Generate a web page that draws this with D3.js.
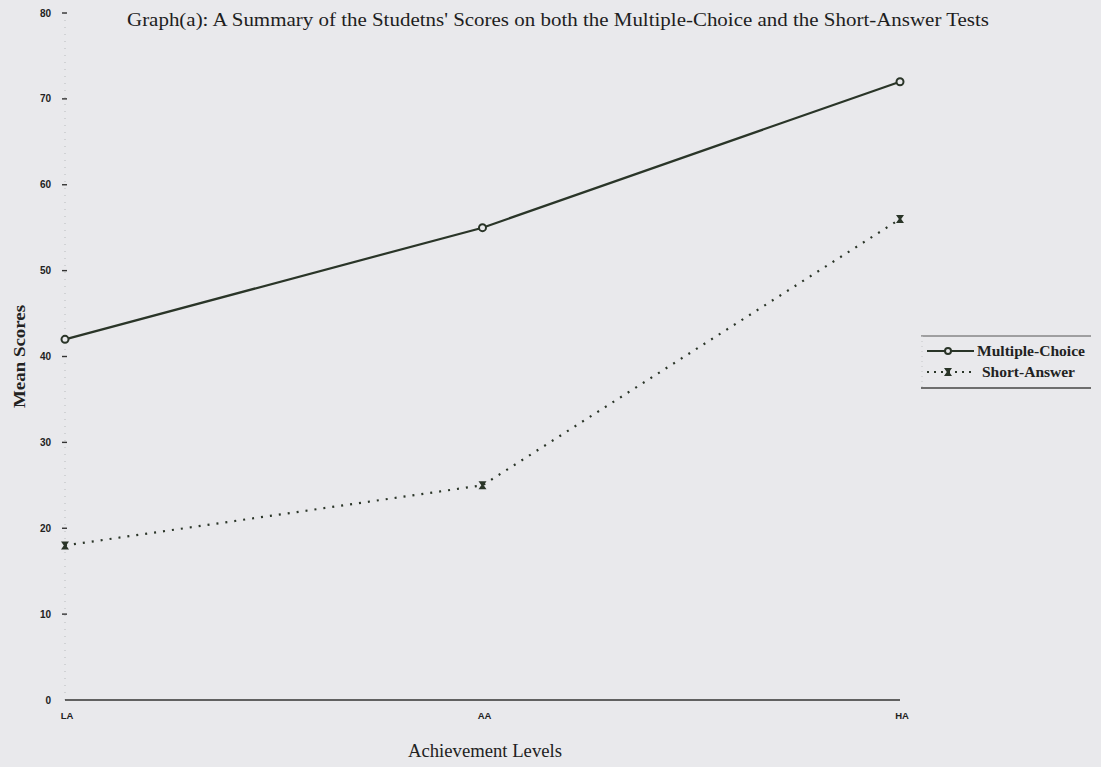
<!DOCTYPE html>
<html>
<head>
<meta charset="utf-8">
<script src="https://cdn.jsdelivr.net/npm/d3@7"></script>
<style>
  html, body { margin: 0; padding: 0; background: #e9e9ec; }
  svg { display: block; }
</style>
</head>
<body>
<div id="chart"></div>
<script>
// data
const levels = ['LA', 'AA', 'HA'];
const multipleChoice = [42, 55, 72];
const shortAnswer = [18, 25, 56];
const yTicks = [0, 10, 20, 30, 40, 50, 60, 70, 80];
const seriesNames = ['Multiple-Choice', 'Short-Answer'];

const width = 1101;
const height = 767;
const ink = '#2a3528';
const serif = '"Liberation Serif", "DejaVu Serif", serif';
const sans = '"Liberation Sans", Arial, sans-serif';
const margin = { left: 65, right: 201, top: 13, bottom: 67 };

const svg = d3.select('#chart')
  .append('svg')
  .attr('width', width)
  .attr('height', height);

svg.append('rect')
  .attr('width', width)
  .attr('height', height)
  .attr('fill', '#e9e9ec');

const x = d3.scalePoint()
  .domain(levels)
  .range([margin.left, width - margin.right]);

const y = d3.scaleLinear()
  .domain([0, 80])
  .range([height - margin.bottom, margin.top]);

// title
svg.append('text')
  .attr('x', 127)
  .attr('y', 26)
  .attr('textLength', 862)
  .attr('lengthAdjust', 'spacingAndGlyphs')
  .style('font-family', serif)
  .style('font-size', '18px')
  .attr('fill', '#1e1e1e')
  .text("Graph(a): A Summary of the Studetns' Scores on both the Multiple-Choice and the Short-Answer Tests");

// y axis (faint dotted)
svg.append('line')
  .attr('x1', margin.left).attr('x2', margin.left)
  .attr('y1', y(80)).attr('y2', y(0))
  .attr('stroke', '#b8bbbd')
  .attr('stroke-width', 1)
  .attr('stroke-dasharray', '1,6');

const yAxis = svg.append('g').attr('class', 'axis axis-y');
yAxis.selectAll('text')
  .data(yTicks)
  .join('text')
  .attr('x', 51)
  .attr('y', (d) => y(d) + 3.5)
  .attr('text-anchor', 'end')
  .style('font-family', sans)
  .style('font-size', '10px')
  .style('font-weight', 'bold')
  .attr('fill', '#222')
  .text((d) => d);
yAxis.selectAll('line')
  .data(yTicks.filter((d) => d > 0))
  .join('line')
  .attr('x1', 62).attr('x2', 67)
  .attr('y1', (d) => y(d)).attr('y2', (d) => y(d))
  .attr('stroke', '#333')
  .attr('stroke-width', 1.4);

// zero line
svg.append('line')
  .attr('x1', margin.left).attr('x2', x('HA'))
  .attr('y1', y(0)).attr('y2', y(0))
  .attr('stroke', '#333')
  .attr('stroke-width', 1.3);

// x tick labels
svg.append('g')
  .attr('class', 'axis axis-x')
  .selectAll('text')
  .data(levels)
  .join('text')
  .attr('x', (d) => x(d) + 2)
  .attr('y', y(0) + 19)
  .attr('text-anchor', 'middle')
  .style('font-family', sans)
  .style('font-size', '9.5px')
  .style('font-weight', 'bold')
  .attr('fill', '#222')
  .text((d) => d);

// axis titles
svg.append('text')
  .attr('x', 408)
  .attr('y', 757)
  .attr('textLength', 154)
  .attr('lengthAdjust', 'spacingAndGlyphs')
  .style('font-family', serif)
  .style('font-size', '18px')
  .attr('fill', '#222')
  .text('Achievement Levels');

svg.append('text')
  .attr('transform', 'translate(25, 408) rotate(-90)')
  .attr('textLength', 103)
  .attr('lengthAdjust', 'spacingAndGlyphs')
  .style('font-family', serif)
  .style('font-size', '17px')
  .style('font-weight', 'bold')
  .attr('fill', '#222')
  .text('Mean Scores');

// lines
const line = d3.line()
  .x((d, i) => x(levels[i]))
  .y((d) => y(d));

svg.append('path')
  .datum(multipleChoice)
  .attr('fill', 'none')
  .attr('stroke', ink)
  .attr('stroke-width', 2.2)
  .attr('d', line);

svg.append('path')
  .datum(shortAnswer)
  .attr('fill', 'none')
  .attr('stroke', ink)
  .attr('stroke-width', 2.2)
  .attr('stroke-dasharray', '2,7')
  .attr('d', line);

// markers
const drawCircle = (g, cx, cy) => g.append('circle')
  .attr('cx', cx).attr('cy', cy).attr('r', 3.5)
  .attr('fill', '#e9e9ec')
  .attr('stroke', ink)
  .attr('stroke-width', 2);

const drawBowtie = (g, cx, cy) => g.append('path')
  .attr('d', `M${cx - 4},${cy - 4}H${cx + 4}L${cx + 1.2},${cy}L${cx + 4},${cy + 4}H${cx - 4}L${cx - 1.2},${cy}Z`)
  .attr('fill', ink);

const gMarkers = svg.append('g').attr('class', 'markers');
multipleChoice.forEach((d, i) => drawCircle(gMarkers, x(levels[i]), y(d)));
shortAnswer.forEach((d, i) => drawBowtie(gMarkers, x(levels[i]), y(d)));

// legend
const gLegend = svg.append('g').attr('class', 'legend');
gLegend.append('line')
  .attr('x1', 921).attr('x2', 1091).attr('y1', 336).attr('y2', 336)
  .attr('stroke', '#555').attr('stroke-width', 1);
gLegend.append('line')
  .attr('x1', 921).attr('x2', 1091).attr('y1', 388).attr('y2', 388)
  .attr('stroke', '#444').attr('stroke-width', 1.3);
gLegend.append('line')
  .attr('x1', 922).attr('x2', 922).attr('y1', 336).attr('y2', 388)
  .attr('stroke', '#c4c6c8').attr('stroke-width', 1)
  .attr('stroke-dasharray', '1,4');

const legendRows = [351, 372];
gLegend.append('line')
  .attr('x1', 927).attr('x2', 974).attr('y1', legendRows[0]).attr('y2', legendRows[0])
  .attr('stroke', ink).attr('stroke-width', 2);
drawCircle(gLegend, 948, legendRows[0]).attr('r', 3);
gLegend.append('line')
  .attr('x1', 927).attr('x2', 974).attr('y1', legendRows[1]).attr('y2', legendRows[1])
  .attr('stroke', ink).attr('stroke-width', 2)
  .attr('stroke-dasharray', '2,5');
drawBowtie(gLegend, 948, legendRows[1]);

gLegend.selectAll('text.lbl')
  .data(seriesNames)
  .join('text')
  .attr('class', 'lbl')
  .attr('x', (d, i) => (i === 0 ? 977 : 982))
  .attr('y', (d, i) => legendRows[i] + 4.5)
  .attr('textLength', (d, i) => (i === 0 ? 108 : 93))
  .attr('lengthAdjust', 'spacingAndGlyphs')
  .style('font-family', serif)
  .style('font-size', '14px')
  .style('font-weight', 'bold')
  .attr('fill', '#222')
  .text((d) => d);
</script>
</body>
</html>
